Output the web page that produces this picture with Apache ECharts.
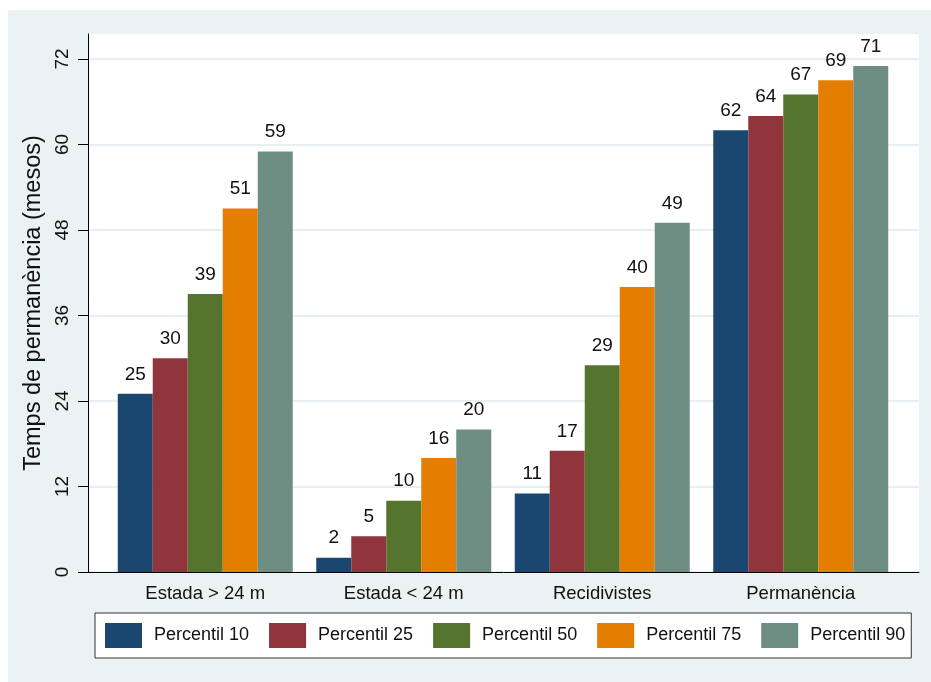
<!DOCTYPE html>
<html>
<head>
<meta charset="utf-8">
<script src="https://cdn.jsdelivr.net/npm/echarts@6/dist/echarts.min.js"></script>
<style>
  html, body { margin: 0; padding: 0; background: #ffffff; }
  #chart { width: 931px; height: 682px; }
</style>
</head>
<body>
<div id="chart"></div>
<script>
// Categories and percentile series (months)
const categories = ['Estada > 24 m', 'Estada < 24 m', 'Recidivistes', 'Permanència'];
const seriesNames = ['Percentil 10', 'Percentil 25', 'Percentil 50', 'Percentil 75', 'Percentil 90'];
const p10 = [25, 2, 11, 62];
const p25 = [30, 5, 17, 64];
const p50 = [39, 10, 29, 67];
const p75 = [51, 16, 40, 69];
const p90 = [59, 20, 49, 71];
const yTicks = [0, 12, 24, 36, 48, 60, 72];
const yTitle = 'Temps de permanència (mesos)';

const colors = ['#1a476f', '#90353b', '#55752f', '#e37e00', '#6e8e84'];
const font = "'Liberation Sans', Arial, sans-serif";
const yMax = 75.5;

const seriesData = [p10, p25, p50, p75, p90];

const chart = echarts.init(document.getElementById('chart'), null, { renderer: 'canvas' });

chart.setOption({
  backgroundColor: '#ffffff',
  animation: false,
  textStyle: { fontFamily: font },
  graphic: [{
    type: 'rect',
    z: -10,
    silent: true,
    shape: { x: 8, y: 10, width: 923, height: 672 },
    style: { fill: '#eaf2f3' }
  }],
  grid: [
    { left: 88, right: 12, top: 34, bottom: 110, show: true, backgroundColor: '#ffffff', borderWidth: 0 },
    { left: 106, right: 31, top: 34, bottom: 110 }
  ],
  xAxis: [
    {
      gridIndex: 0, type: 'value', min: 0, max: 1,
      axisLine: { show: true, onZero: false, lineStyle: { color: '#000', width: 1 } },
      axisTick: { show: false }, axisLabel: { show: false }, splitLine: { show: false }
    },
    {
      gridIndex: 1, type: 'category', data: categories,
      axisLine: { show: false }, axisTick: { show: false },
      axisLabel: { color: '#111', fontSize: 18.5, margin: 12, fontFamily: font }
    }
  ],
  yAxis: [
    {
      gridIndex: 0, type: 'value', min: 0, max: yMax,
      name: yTitle, nameLocation: 'middle', nameGap: 40,
      nameTextStyle: { fontSize: 23.5, color: '#111', fontFamily: font },
      axisLine: { show: true, lineStyle: { color: '#000', width: 1 } },
      axisTick: { show: true, length: 10, customValues: yTicks, lineStyle: { color: '#000' } },
      axisLabel: { customValues: yTicks, rotate: 90, fontSize: 19, color: '#111', margin: 16, fontFamily: font },
      splitLine: { show: true, lineStyle: { color: '#e6eff1', width: 2 } }
    },
    {
      gridIndex: 1, type: 'value', min: 0, max: yMax, show: false,
      splitLine: { show: false }
    }
  ],
  legend: {
    data: seriesNames,
    left: 95, top: 613,
    orient: 'horizontal',
    backgroundColor: '#ffffff',
    borderColor: '#333333', borderWidth: 1,
    padding: [10, 6, 10, 10],
    itemWidth: 37, itemHeight: 25, itemGap: 20,
    icon: 'rect',
    textStyle: { fontSize: 18, color: '#111', fontFamily: font, padding: [0, 0, 0, 7] }
  },
  series: seriesNames.map((name, i) => ({
    name: name,
    type: 'bar',
    xAxisIndex: 1, yAxisIndex: 1,
    data: seriesData[i],
    barWidth: 35,
    barGap: '0%',
    itemStyle: { color: colors[i] },
    label: {
      show: true, position: 'top', distance: 10,
      fontSize: 19, color: '#111', fontFamily: font
    }
  }))
});
</script>
</body>
</html>
